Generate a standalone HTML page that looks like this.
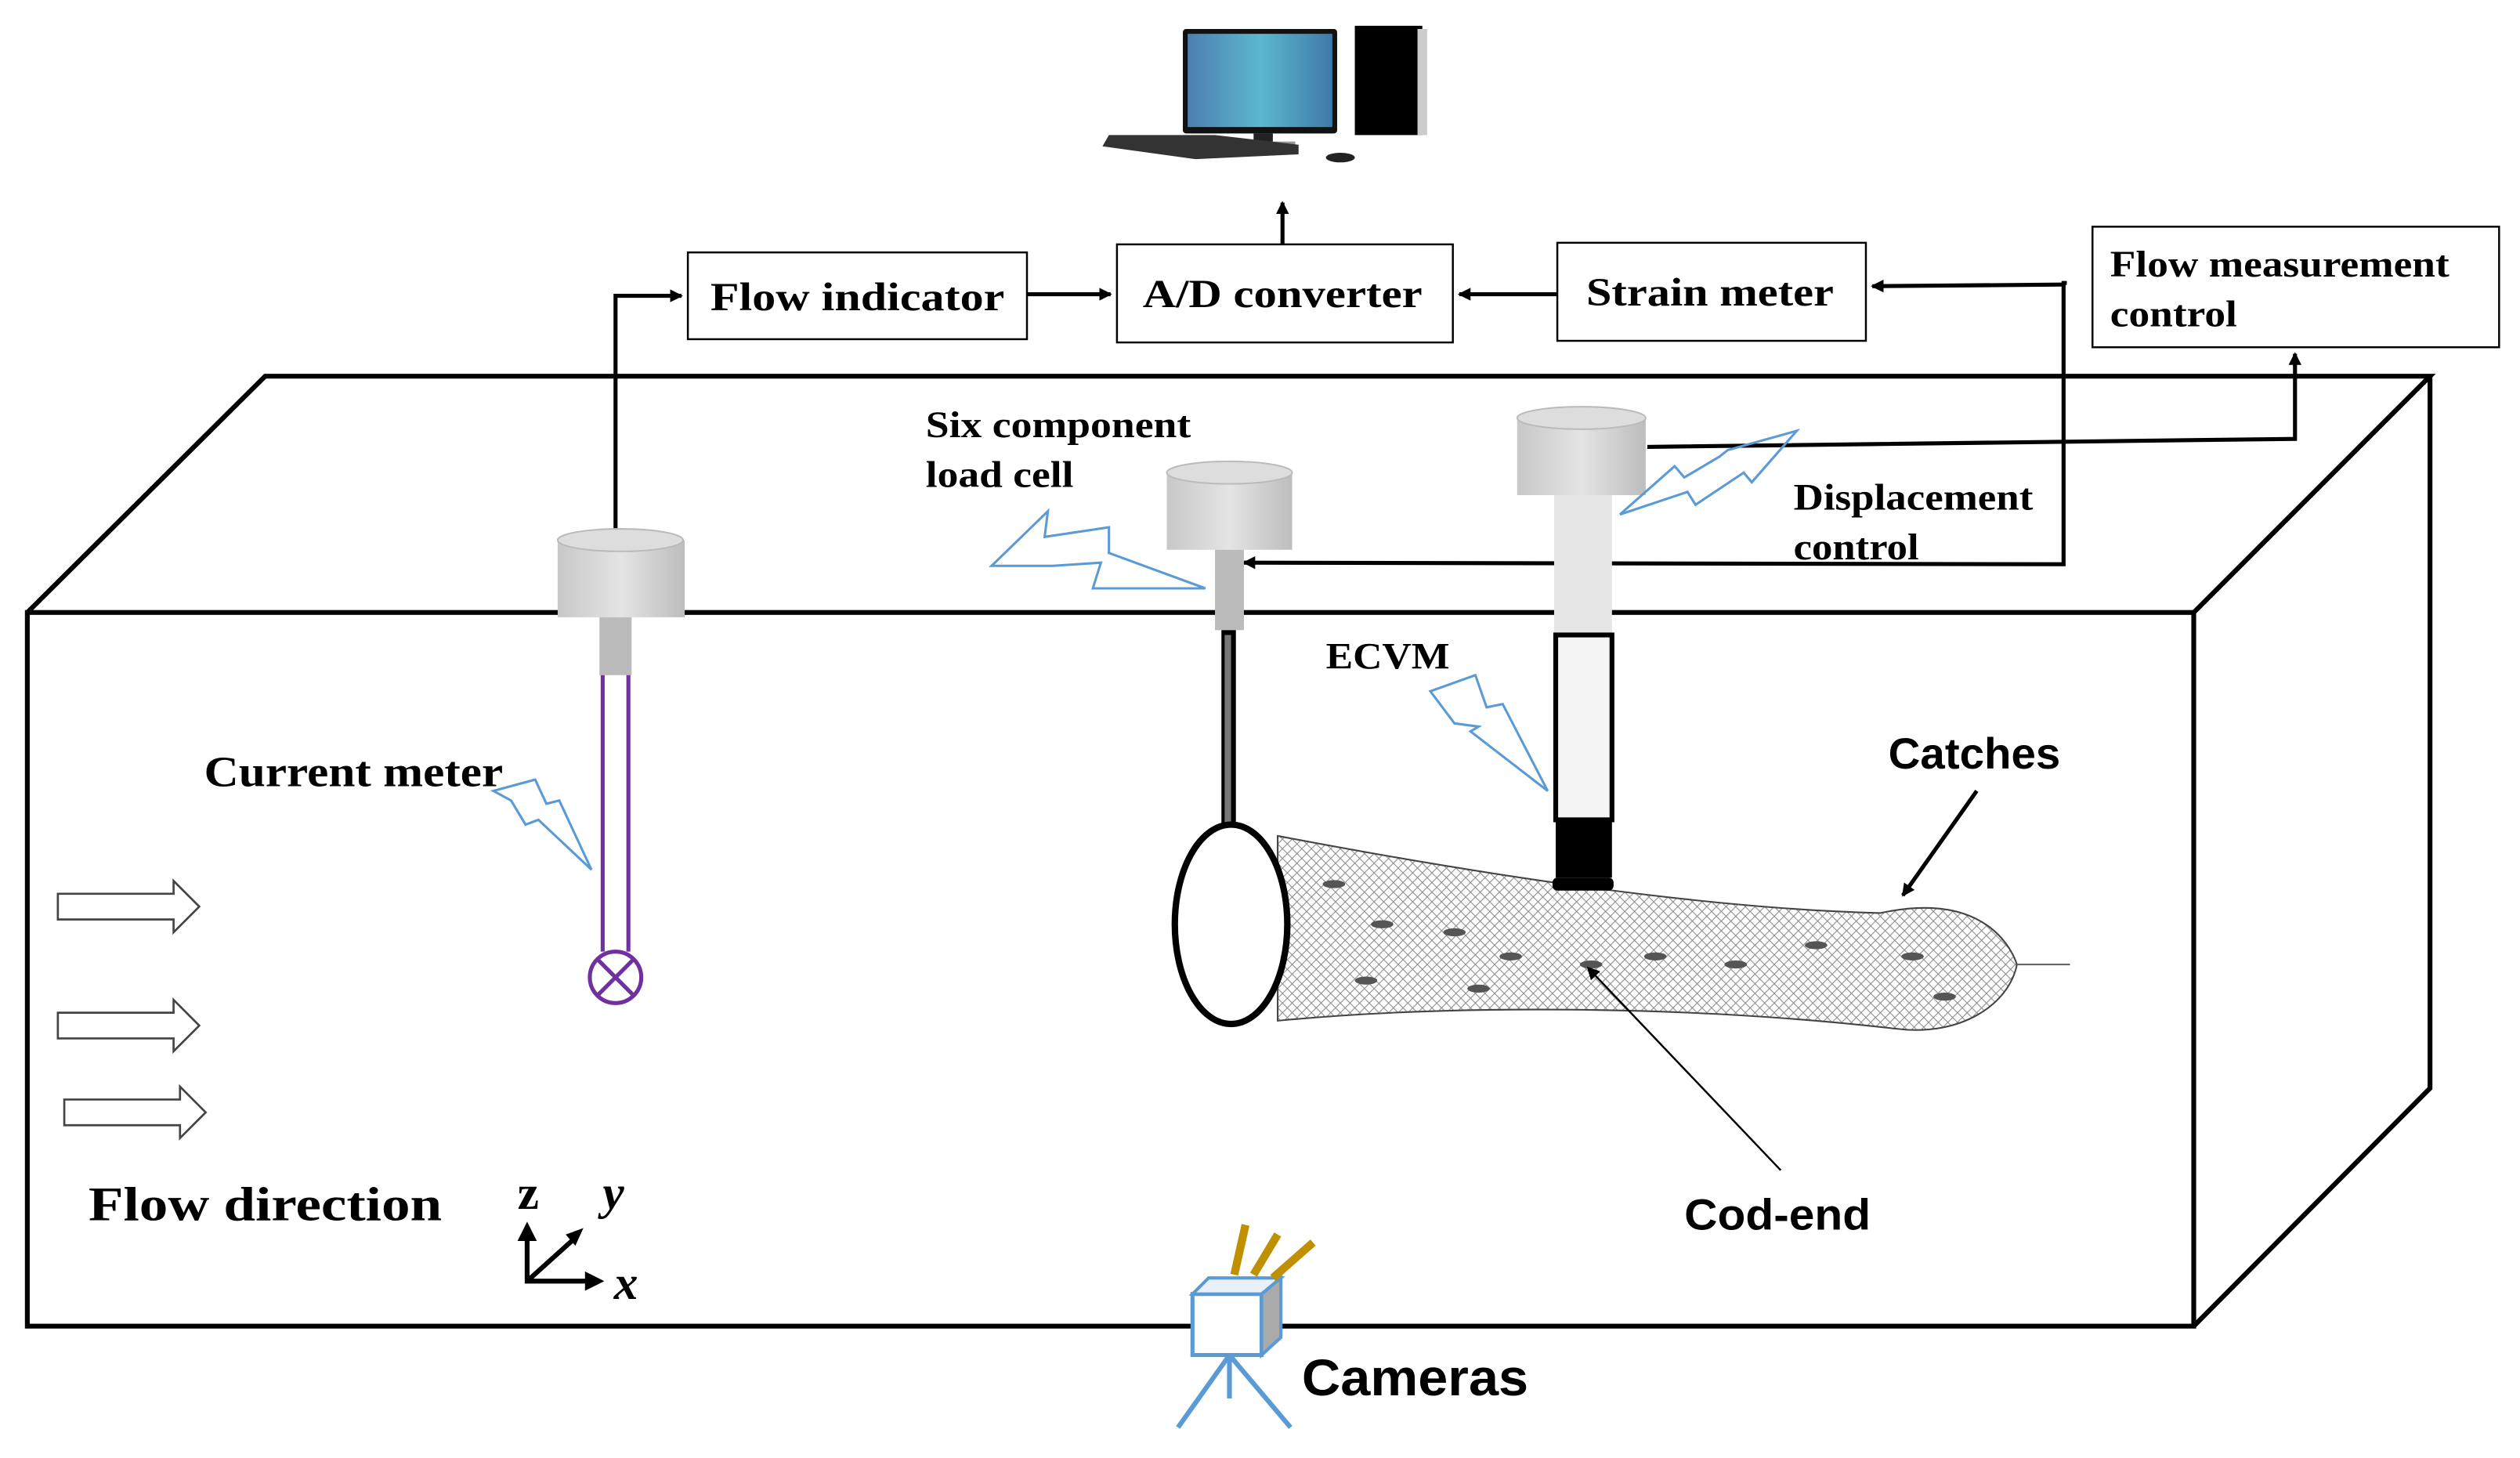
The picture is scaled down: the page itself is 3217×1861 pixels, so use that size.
<!DOCTYPE html>
<html><head><meta charset="utf-8"><style>html,body{margin:0;padding:0;background:#fff}svg{display:block}</style></head>
<body>
<svg width="3217" height="1861" viewBox="0 0 1568 907" xmlns="http://www.w3.org/2000/svg" font-family="Liberation Serif, serif">
<defs>
<marker id="ah" markerWidth="8" markerHeight="8" refX="7" refY="4" orient="auto" markerUnits="userSpaceOnUse"><path d="M0,0 L8,4 L0,8 z" fill="#000"/></marker>
<linearGradient id="scr" x1="0" x2="1"><stop offset="0" stop-color="#4d7fb0"/><stop offset=".5" stop-color="#5cb7cf"/><stop offset="1" stop-color="#3f7aa8"/></linearGradient>
<linearGradient id="cyl" x1="0" x2="1"><stop offset="0" stop-color="#c8c8c8"/><stop offset=".5" stop-color="#e4e4e4"/><stop offset="1" stop-color="#bdbdbd"/></linearGradient>
<pattern id="mesh" width="6" height="6" patternUnits="userSpaceOnUse"><path d="M0,0 L6,6 M6,0 L0,6" stroke="#888" stroke-width=".5"/></pattern>
</defs>
<!-- computer -->
<rect x="736" y="18" width="96" height="65" rx="2" fill="#111"/>
<rect x="739" y="21" width="90" height="58" fill="url(#scr)"/>
<rect x="780" y="83" width="12" height="6" fill="#222"/>
<rect x="766" y="88" width="40" height="3" fill="#999"/>
<polygon points="690,84 756,84 808,90 808,96 744,99 686,91" fill="#333"/>
<ellipse cx="834" cy="98" rx="9" ry="3" fill="#222"/>
<rect x="843" y="16" width="42" height="68" fill="#000"/>
<rect x="882" y="18" width="6" height="66" fill="#ccc"/>
<!-- boxes -->
<g fill="#fff" stroke="#000" stroke-width="1.2">
<rect x="428" y="157" width="211" height="54"/>
<rect x="695" y="152" width="209" height="61"/>
<rect x="969" y="151" width="192" height="61"/>
<rect x="1302" y="141" width="253" height="75"/>
</g>
<g font-weight="bold" font-size="25" fill="#000">
<text x="442" y="193" textLength="183" lengthAdjust="spacingAndGlyphs">Flow  indicator</text>
<text x="711" y="191" textLength="174" lengthAdjust="spacingAndGlyphs">A/D converter</text>
<text x="987" y="190" textLength="154" lengthAdjust="spacingAndGlyphs">Strain meter</text>
<text x="1313" y="172" font-size="23" textLength="211" lengthAdjust="spacingAndGlyphs">Flow measurement</text>
<text x="1313" y="203" font-size="23" textLength="79" lengthAdjust="spacingAndGlyphs">control</text>
</g>
<!-- tank -->
<g fill="none" stroke="#000" stroke-width="3" stroke-linejoin="miter">
<rect x="17" y="381" width="1348" height="444"/>
<polyline points="17,381 165,234 1512,234 1365,381"/>
<polyline points="1512,234 1512,677 1365,825"/>
</g>
<!-- connectors -->
<g fill="none" stroke="#000" stroke-width="2.5">
<polyline points="383,330 383,184 424,184" marker-end="url(#ah)"/>
<line x1="639" y1="183" x2="691" y2="183" marker-end="url(#ah)"/>
<line x1="969" y1="183" x2="908" y2="183" marker-end="url(#ah)"/>
<line x1="798" y1="152" x2="798" y2="126" marker-end="url(#ah)"/>
<polyline points="1286,176 1284,176 1284,351 774,350" marker-end="url(#ah)"/>
<line x1="1284" y1="177" x2="1165" y2="178" marker-end="url(#ah)"/>
<polyline points="1025,278 1428,273 1428,220" marker-end="url(#ah)"/>
</g>
<!-- current meter -->
<rect x="347" y="336" width="79" height="48" fill="url(#cyl)"/>
<ellipse cx="386" cy="336" rx="39" ry="7" fill="#ddd" stroke="#bbb"/>
<rect x="373" y="384" width="20" height="36" fill="#bbb"/>
<g stroke="#7030a0" stroke-width="2.5" fill="none">
<line x1="375" y1="420" x2="375" y2="592"/><line x1="391" y1="420" x2="391" y2="592"/>
<circle cx="383" cy="608" r="16"/>
<line x1="372" y1="597" x2="394" y2="619"/><line x1="394" y1="597" x2="372" y2="619"/>
</g>
<!-- load cell -->
<rect x="726" y="294" width="78" height="48" fill="url(#cyl)"/>
<ellipse cx="765" cy="294" rx="39" ry="7" fill="#ddd" stroke="#bbb"/>
<rect x="756" y="342" width="18" height="50" fill="#bbb"/>
<rect x="760" y="392" width="9" height="122" fill="#000"/>
<rect x="762" y="395" width="4" height="118" fill="#777"/>
<!-- net -->
<path d="M795,520 C900,540 1050,565 1170,568 C1230,555 1250,585 1255,600 C1250,625 1220,645 1180,640 C1050,625 900,625 795,635 Z" fill="url(#mesh)" stroke="#444" stroke-width="1"/>
<g fill="#555">
<ellipse cx="830" cy="550" rx="7" ry="2.5"/><ellipse cx="860" cy="575" rx="7" ry="2.5"/><ellipse cx="905" cy="580" rx="7" ry="2.5"/>
<ellipse cx="940" cy="595" rx="7" ry="2.5"/><ellipse cx="990" cy="600" rx="7" ry="2.5"/><ellipse cx="1030" cy="595" rx="7" ry="2.5"/>
<ellipse cx="1080" cy="600" rx="7" ry="2.5"/><ellipse cx="1130" cy="588" rx="7" ry="2.5"/><ellipse cx="1190" cy="595" rx="7" ry="2.5"/>
<ellipse cx="1210" cy="620" rx="7" ry="2.5"/><ellipse cx="850" cy="610" rx="7" ry="2.5"/><ellipse cx="920" cy="615" rx="7" ry="2.5"/>
</g>
<path d="M1255,600 L1288,600" stroke="#666" stroke-width="1"/>
<ellipse cx="766" cy="575" rx="35" ry="62" fill="#fff" stroke="#000" stroke-width="4"/>
<!-- displacement / ECVM -->
<rect x="944" y="260" width="80" height="48" fill="url(#cyl)"/>
<ellipse cx="984" cy="260" rx="40" ry="7" fill="#ddd" stroke="#bbb"/>
<rect x="967" y="308" width="36" height="87" fill="#e6e6e6"/>
<rect x="968" y="395" width="35" height="115" fill="#f4f4f4" stroke="#000" stroke-width="3"/>
<rect x="968" y="510" width="35" height="36" fill="#000"/>
<rect x="966" y="546" width="38" height="8" rx="3" fill="#000"/>
<!-- lightning -->
<g fill="none" stroke="#5b9bd5" stroke-width="1.5">
<polygon points="307,492 333,485 340,500 348,498 368,541 335,510 327,513 318,498"/>
<polygon points="617,352 652,318 650,334 690,328 690,344 750,366 680,366 685,350 655,352"/>
<polygon points="890,430 918,420 925,440 935,438 963,492 915,455 920,452 905,450"/>
<polygon points="1008,320 1042,290 1048,297 1070,284 1075,280 1118,268 1090,300 1085,294 1055,314 1050,306"/>
</g>
<!-- flow arrows -->
<g fill="#fff" stroke="#444" stroke-width="1.3">
<polygon points="36,556 108,556 108,548 124,564 108,580 108,572 36,572"/>
<polygon points="36,630 108,630 108,622 124,638 108,654 108,646 36,646"/>
<polygon points="40,684 112,684 112,676 128,692 112,708 112,700 40,700"/>
</g>
<!-- axes -->
<g stroke="#000" stroke-width="3" fill="none">
<polyline points="328,770 328,797 366,797" />
<line x1="328" y1="797" x2="358" y2="770"/>
</g>
<polygon points="322,772 328,760 334,772" fill="#000"/>
<polygon points="364,791 376,797 364,803" fill="#000"/>
<polygon points="352,768 363,764 358,775" fill="#000"/>
<g font-weight="bold" font-size="30" fill="#000">
<text x="322" y="752">z</text>
<text x="375" y="752" font-style="italic">y</text>
<text x="382" y="808" font-style="italic">x</text>
<text x="55" y="759" textLength="220" lengthAdjust="spacingAndGlyphs">Flow direction</text>
</g>
<!-- camera -->
<g stroke="#5b9bd5" stroke-width="3" fill="none">
<line x1="765" y1="843" x2="733" y2="888"/><line x1="765" y1="843" x2="803" y2="888"/><line x1="765" y1="843" x2="765" y2="870"/>
</g>
<polygon points="742,805 785,805 785,843 742,843" fill="#fff" stroke="#5b9bd5" stroke-width="2.5"/>
<polygon points="742,805 752,795 797,795 785,805" fill="#e8f0fa" stroke="#5b9bd5" stroke-width="2"/>
<polygon points="785,805 797,795 797,832 785,843" fill="#aaa" stroke="#5b9bd5" stroke-width="2"/>
<g stroke="#c09000" stroke-width="5"><line x1="768" y1="793" x2="775" y2="762"/><line x1="780" y1="793" x2="795" y2="768"/><line x1="792" y1="795" x2="817" y2="773"/></g>
<!-- labels -->
<g font-weight="bold" fill="#000">
<text x="576" y="272" font-size="23" textLength="165" lengthAdjust="spacingAndGlyphs">Six component</text>
<text x="576" y="303" font-size="23" textLength="92" lengthAdjust="spacingAndGlyphs">load cell</text>
<text x="1116" y="317" font-size="23" textLength="149" lengthAdjust="spacingAndGlyphs">Displacement</text>
<text x="1116" y="348" font-size="23" textLength="78" lengthAdjust="spacingAndGlyphs">control</text>
<text x="825" y="416" font-size="23" textLength="77" lengthAdjust="spacingAndGlyphs">ECVM</text>
<text x="127" y="489" font-size="27" textLength="186" lengthAdjust="spacingAndGlyphs">Current meter</text>
</g>
<g font-family="Liberation Sans, sans-serif" font-weight="bold" fill="#000">
<text x="1175" y="478" font-size="27" textLength="107" lengthAdjust="spacingAndGlyphs">Catches</text>
<text x="1048" y="765" font-size="27" textLength="116" lengthAdjust="spacingAndGlyphs">Cod-end</text>
<text x="810" y="868" font-size="32" textLength="141" lengthAdjust="spacingAndGlyphs">Cameras</text>
</g>
<line x1="1230" y1="492" x2="1184" y2="557" stroke="#000" stroke-width="2.5" marker-end="url(#ah)"/>
<line x1="1108" y1="728" x2="988" y2="602" stroke="#000" stroke-width="1.2" marker-end="url(#ah)"/>
</svg>
</body></html>
